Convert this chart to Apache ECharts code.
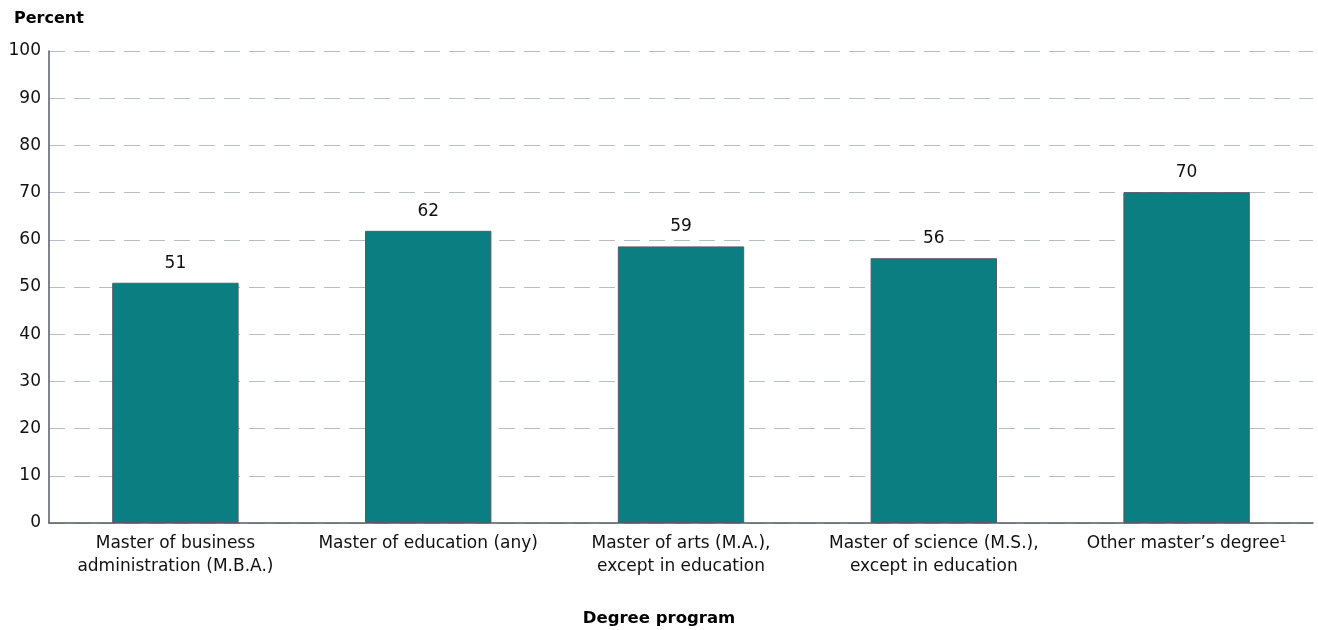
<!DOCTYPE html>
<html><head><meta charset="utf-8">
<script src="https://cdn.jsdelivr.net/npm/echarts@6/dist/echarts.min.js"></script>
<style>html,body{margin:0;padding:0;background:#fff}#c{width:1318px;height:630px}</style>
</head><body><div id="c"></div>
<script>
const categories = [
  "Master of business\nadministration (M.B.A.)",
  "Master of education (any)",
  "Master of arts (M.A.),\nexcept in education",
  "Master of science (M.S.),\nexcept in education",
  "Other master\u2019s degree\u00B9"
];
const values = [50.9, 61.9, 58.6, 56.1, 70.1];
const yTicks = { min: 0, max: 100, interval: 10 };

const FONT = "DejaVu Sans";
const chart = echarts.init(document.getElementById('c'));
chart.setOption({
  animation: false,
  textStyle: { fontFamily: FONT },
  title: [
    { text: "Percent", left: 9, top: 6, textStyle: { fontFamily: FONT, fontSize: 16, fontWeight: 'bold', color: '#000' } },
    { text: "Degree program", left: 'center', top: 605, textStyle: { fontFamily: FONT, fontSize: 16.5, fontWeight: 'bold', color: '#000' } }
  ],
  grid: { left: 49, right: 5, top: 51, bottom: 107, containLabel: false },
  xAxis: {
    type: 'category',
    data: categories,
    axisLine: { lineStyle: { color: '#555a64', width: 1.5 } },
    axisTick: { show: false },
    axisLabel: { color: '#111', fontSize: 17, lineHeight: 23, margin: 9, interval: 0, fontFamily: FONT }
  },
  yAxis: {
    type: 'value',
    min: yTicks.min, max: yTicks.max, interval: yTicks.interval,
    axisLine: { show: true, lineStyle: { color: '#555a64', width: 1.5 } },
    axisTick: { show: false },
    axisLabel: { color: '#111', fontSize: 17, margin: 8, fontFamily: FONT },
    splitLine: { show: true, lineStyle: { color: '#b8bcc4', width: 1, type: [16, 9] } }
  },
  series: [{
    type: 'bar',
    data: values,
    barWidth: '50%',
    itemStyle: { color: '#0a7e80', borderColor: '#555a64', borderWidth: 1 },
    label: {
      show: true, position: 'top', distance: 10,
      formatter: p => Math.round(p.value),
      color: '#111', fontSize: 17, fontFamily: FONT,
      backgroundColor: '#fff', padding: [1, 3]
    }
  }]
});
</script></body></html>
